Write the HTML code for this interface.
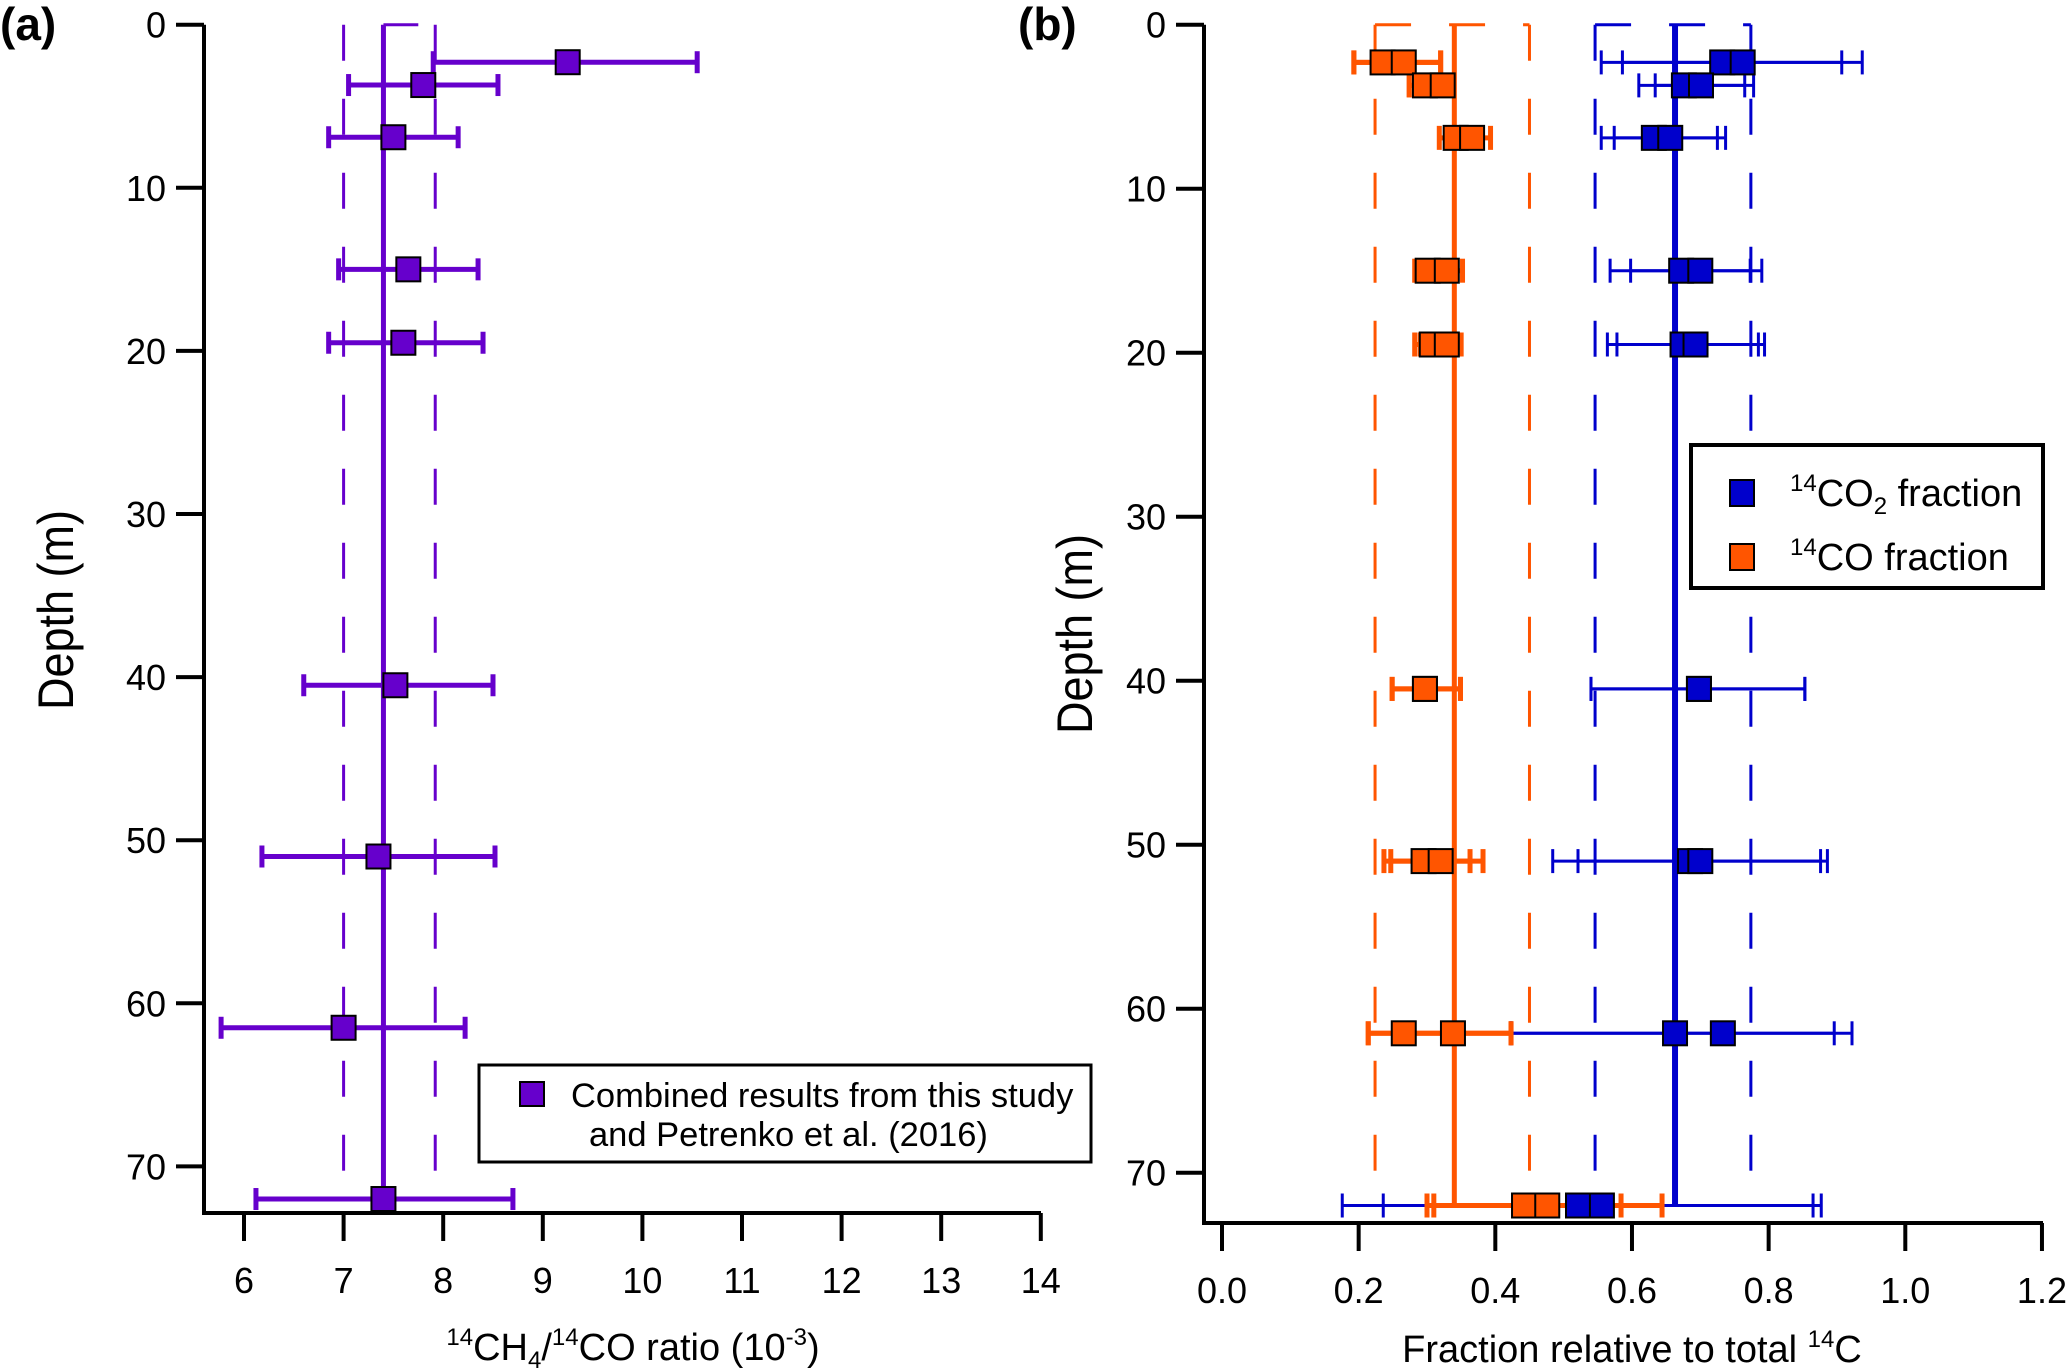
<!DOCTYPE html>
<html><head><meta charset="utf-8"><style>
html,body{margin:0;padding:0;background:#fff;}
svg{display:block;font-family:"Liberation Sans",sans-serif;}
</style></head><body>
<svg id="chart" width="2067" height="1368" viewBox="0 0 2067 1368" xmlns="http://www.w3.org/2000/svg">
<g id="pa"></g>
<g id="pb"></g>
<text x="0" y="40" font-size="46" font-weight="bold">(a)</text>
<text x="1018" y="40" font-size="46" font-weight="bold">(b)</text>
<text transform="translate(73,610) rotate(-90)" text-anchor="middle" font-size="50" textLength="200" lengthAdjust="spacingAndGlyphs">Depth (m)</text>
<text transform="translate(1092,634) rotate(-90)" text-anchor="middle" font-size="50" textLength="200" lengthAdjust="spacingAndGlyphs">Depth (m)</text>
<text x="633" y="1360" text-anchor="middle" font-size="38"><tspan font-size="24" dy="-15">14</tspan><tspan dy="15">CH</tspan><tspan font-size="24" dy="8">4</tspan><tspan dy="-8">/</tspan><tspan font-size="24" dy="-15">14</tspan><tspan dy="15">CO ratio (10</tspan><tspan font-size="24" dy="-15">-3</tspan><tspan dy="15">)</tspan></text>
<text x="1632" y="1362" text-anchor="middle" font-size="38">Fraction relative to total <tspan font-size="24" dy="-15">14</tspan><tspan dy="15">C</tspan></text>
<g>
<rect x="479" y="1065" width="612" height="97" fill="#fff" stroke="#000" stroke-width="3"/>
<rect x="520" y="1082" width="24" height="24" fill="#6600cc" stroke="#000" stroke-width="2"/>
<text x="571" y="1107" font-size="34.5">Combined results from this study</text>
<text x="589" y="1146" font-size="34.5">and Petrenko et al. (2016)</text>
</g>
<g>
<rect x="1691" y="445" width="352" height="143" fill="#fff" stroke="#000" stroke-width="4"/>
<rect x="1730" y="480" width="24" height="26" fill="#0000cc" stroke="#000" stroke-width="2"/>
<rect x="1730" y="544" width="24" height="26" fill="#ff5500" stroke="#000" stroke-width="2"/>
<text x="1790" y="506" font-size="38"><tspan font-size="24" dy="-15">14</tspan><tspan dy="15">CO</tspan><tspan font-size="24" dy="8">2</tspan><tspan dy="-8"> fraction</tspan></text>
<text x="1790" y="570" font-size="38"><tspan font-size="24" dy="-15">14</tspan><tspan dy="15">CO fraction</tspan></text>
</g>
</svg>
<script>
// Panel A data
const aDepth = [2.3, 3.7, 6.9, 15, 19.5, 40.5, 51, 61.5, 72];
const aRatio = [9.25, 7.8, 7.5, 7.65, 7.6, 7.52, 7.35, 7.0, 7.4];
const aLo = [7.9, 7.05, 6.85, 6.95, 6.85, 6.6, 6.18, 5.77, 6.12];
const aHi = [10.55, 8.55, 8.15, 8.35, 8.4, 8.5, 8.52, 8.22, 8.7];
const aMean = [7.4, 7.0, 7.92];
const aXTicks = [6, 7, 8, 9, 10, 11, 12, 13, 14];
const yTicks = [0, 10, 20, 30, 40, 50, 60, 70];
// Panel B data
const bDepth = [2.3, 3.7, 6.9, 15, 19.5, 40.5, 51, 61.5, 72];
const coV1 = [0.235, 0.297, 0.342, 0.301, 0.307, 0.297, 0.295, 0.266, 0.442];
const coV2 = [0.266, 0.323, 0.366, 0.329, 0.329, 0.297, 0.32, 0.338, 0.476];
const coLo1 = [0.193, 0.274, 0.318, 0.282, 0.282, 0.249, 0.237, 0.214, 0.300];
const coLo2 = [0.193, 0.274, 0.33, 0.29, 0.29, 0.249, 0.247, 0.214, 0.310];
const coHi1 = [0.32, 0.338, 0.379, 0.338, 0.34, 0.349, 0.363, 0.423, 0.584];
const coHi2 = [0.32, 0.338, 0.393, 0.352, 0.35, 0.349, 0.382, 0.423, 0.644];
const co2V1 = [0.732, 0.676, 0.632, 0.672, 0.674, 0.698, 0.685, 0.663, 0.521];
const co2V2 = [0.762, 0.701, 0.656, 0.700, 0.693, 0.698, 0.70, 0.733, 0.556];
const co2Lo1 = [0.555, 0.610, 0.555, 0.568, 0.564, 0.540, 0.484, 0.423, 0.176];
const co2Lo2 = [0.586, 0.634, 0.574, 0.598, 0.578, 0.540, 0.521, 0.423, 0.236];
const co2Hi1 = [0.907, 0.765, 0.725, 0.773, 0.785, 0.853, 0.876, 0.896, 0.865];
const co2Hi2 = [0.937, 0.778, 0.737, 0.790, 0.794, 0.853, 0.886, 0.922, 0.877];
const coMean = [0.34, 0.224, 0.45];
const co2Mean = [0.663, 0.546, 0.774];
const bXTicks = [0, 0.2, 0.4, 0.6, 0.8, 1.0, 1.2];

const NS = "http://www.w3.org/2000/svg";
function mk(parent, tag, attrs) {
  const e = document.createElementNS(NS, tag);
  for (const k in attrs) e.setAttribute(k, attrs[k]);
  parent.appendChild(e);
  return e;
}
const ax = v => 244 + (v - 6) * 99.6;
const ay = d => 24.7 + d * 16.31;
const bx = v => 1222 + v * 683.3;
const by = d => 24.7 + d * 16.40;

function axes(g, axisX, axisBottom, xLeft, xRight, yf, xf, xt, fmt, pre) {
  let l = mk(g, 'line', {x1: axisX, y1: yf(0), x2: axisX, y2: axisBottom, stroke: '#000', 'stroke-width': 4});
  
  
  l = mk(g, 'line', {x1: axisX - 2, y1: axisBottom, x2: xRight, y2: axisBottom, stroke: '#000', 'stroke-width': 4});
  
  
  yTicks.forEach(t => {
    const y = yf(t);
    const tk = mk(g, 'line', {x1: axisX - 28, y1: y, x2: axisX, y2: y, stroke: '#000', 'stroke-width': 4});
    
    
    const tx = mk(g, 'text', {x: axisX - 38, y: y + 13, 'text-anchor': 'end', 'font-size': 36});
    tx.textContent = t;
    
    
  });
  xt.forEach(t => {
    const x = xf(t);
    const tk = mk(g, 'line', {x1: x, y1: axisBottom, x2: x, y2: axisBottom + 28, stroke: '#000', 'stroke-width': 4});
    
    
    const tx = mk(g, 'text', {x: x, y: axisBottom + 80, 'text-anchor': 'middle', 'font-size': 36});
    tx.textContent = fmt(t);
    
    
  });
}

function meanLines(g, xf, yf, m, color, w, dmax, pre, top) {
  [1, 2].forEach(i => {
    const d = mk(g, 'line', {x1: xf(m[i]), y1: yf(0), x2: xf(m[i]), y2: yf(dmax), stroke: color, 'stroke-width': 3, 'stroke-dasharray': '36 38'});
    
    
  });
  if (top) {
    const t = mk(g, 'line', {x1: xf(m[1]), y1: yf(0), x2: xf(m[2]), y2: yf(0), stroke: color, 'stroke-width': 3, 'stroke-dasharray': '36 38'});
    
    
  }
  const s = mk(g, 'line', {x1: xf(m[0]), y1: yf(0), x2: xf(m[0]), y2: yf(dmax), stroke: color, 'stroke-width': w});
  
  
}

function errbar(g, xf, yf, d, lo, hi, color, w, cap, pre) {
  const y = yf(d);
  const l = mk(g, 'line', {x1: xf(lo), y1: y, x2: xf(hi), y2: y, stroke: color, 'stroke-width': w});
  
  
  [lo, hi].forEach(v => {
    const c = mk(g, 'line', {x1: xf(v), y1: y - cap, x2: xf(v), y2: y + cap, stroke: color, 'stroke-width': w});
    
    
  });
}
function marker(g, xf, yf, d, v, color, pre) {
  const r = mk(g, 'rect', {x: xf(v) - 12, y: yf(d) - 12, width: 24, height: 24, fill: color, stroke: '#000', 'stroke-width': 2});
  
  
}

// Panel A
const pa = document.getElementById('pa');
meanLines(pa, ax, ay, aMean, '#6600cc', 5, 72.3, 'ratio', false);
const topA = mk(pa, 'line', {x1: ax(aMean[0]), y1: ay(0), x2: ax(7.75), y2: ay(0), stroke: '#6600cc', 'stroke-width': 3});


aDepth.forEach((d, i) => errbar(pa, ax, ay, d, aLo[i], aHi[i], '#6600cc', 5, 11, 'ratio'));
aDepth.forEach((d, i) => marker(pa, ax, ay, d, aRatio[i], '#6600cc', 'ratio'));
axes(pa, 204, 1213, 204, 1041, ay, ax, aXTicks, t => t, 'panel-a');

// Panel B
const pb = document.getElementById('pb');
meanLines(pb, bx, by, coMean, '#ff5500', 5, 72, 'co', true);
meanLines(pb, bx, by, co2Mean, '#0000cc', 6, 72, 'co2', true);
bDepth.forEach((d, i) => {
  errbar(pb, bx, by, d, co2Lo1[i], co2Hi1[i], '#0000cc', 3, 12, 'co2');
  errbar(pb, bx, by, d, co2Lo2[i], co2Hi2[i], '#0000cc', 3, 12, 'co2');
});
bDepth.forEach((d, i) => {
  errbar(pb, bx, by, d, coLo1[i], coHi1[i], '#ff5500', 5, 12, 'co');
  errbar(pb, bx, by, d, coLo2[i], coHi2[i], '#ff5500', 5, 12, 'co');
});
bDepth.forEach((d, i) => {
  marker(pb, bx, by, d, co2V1[i], '#0000cc', 'co2');
  marker(pb, bx, by, d, co2V2[i], '#0000cc', 'co2');
  marker(pb, bx, by, d, coV1[i], '#ff5500', 'co');
  marker(pb, bx, by, d, coV2[i], '#ff5500', 'co');
});
axes(pb, 1204, 1223, 1204, 2043, by, bx, bXTicks, t => t.toFixed(1), 'panel-b');
</script>
</body></html>
